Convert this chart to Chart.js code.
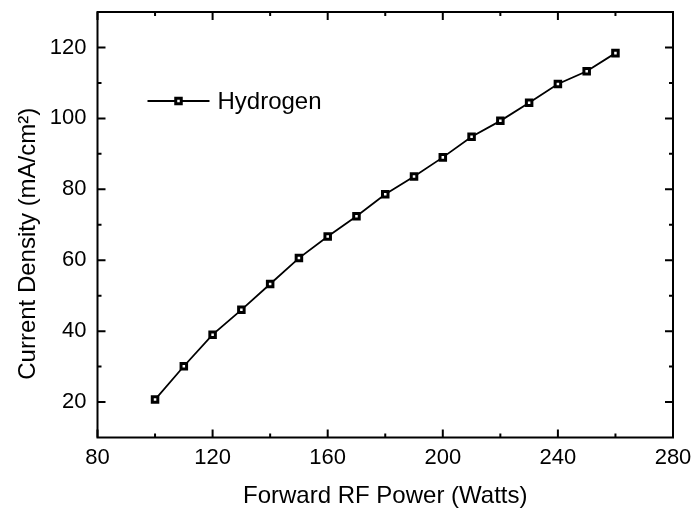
<!DOCTYPE html>
<html>
<head>
<meta charset="utf-8">
<script src="https://cdn.jsdelivr.net/npm/chart.js@4/dist/chart.umd.min.js"></script>
<style>
html,body{margin:0;padding:0;background:#fff;}
#wrap{width:695px;height:512px;position:relative;}
</style>
</head>
<body>
<div id="wrap"><canvas id="c" width="695" height="512"></canvas></div>
<script>
const powerWatts = [100,110,120,130,140,150,160,170,180,190,200,210,220,230,240,250,260];
const currentDensity = [20.7,30.1,39.0,46.0,53.3,60.6,66.7,72.4,78.6,83.6,89.0,94.8,99.3,104.4,109.7,113.3,118.4];
const seriesLabel = 'Hydrogen';
const xTickValues = [80,120,160,200,240,280];
const yTickValues = [20,40,60,80,100,120];
const xTitle = 'Forward RF Power (Watts)';
const yTitle = 'Current Density (mA/cm\u00B2)';

const FONT = '"Liberation Sans", Arial, sans-serif';

const framePlugin = {
  id: 'frame',
  afterDraw(chart) {
    const ctx = chart.ctx;
    const a = chart.chartArea;
    const xs = chart.scales.x, ys = chart.scales.y;
    ctx.save();
    ctx.strokeStyle = '#000';
    ctx.lineWidth = 2;
    ctx.strokeRect(a.left, a.top, a.right - a.left, a.bottom - a.top);
    const major = 8, minor = 4;
    ctx.beginPath();
    const xt = xTickValues;
    for (let i = 0; i < xt.length; i++) {
      const px = xs.getPixelForValue(xt[i]);
      ctx.moveTo(px, a.bottom); ctx.lineTo(px, a.bottom - major);
      ctx.moveTo(px, a.top); ctx.lineTo(px, a.top + major);
      if (i < xt.length - 1) {
        const mx = xs.getPixelForValue((xt[i] + xt[i+1]) / 2);
        ctx.moveTo(mx, a.bottom); ctx.lineTo(mx, a.bottom - minor);
        ctx.moveTo(mx, a.top); ctx.lineTo(mx, a.top + minor);
      }
    }
    const yt = yTickValues;
    const ymin = ys.min, ymax = ys.max;
    for (let i = 0; i < yt.length; i++) {
      const py = ys.getPixelForValue(yt[i]);
      ctx.moveTo(a.left, py); ctx.lineTo(a.left + major, py);
      ctx.moveTo(a.right, py); ctx.lineTo(a.right - major, py);
    }
    const step = yt[1] - yt[0];
    for (let v = yt[0] - step / 2; v <= ymax; v += step) {
      if (v <= ymin) continue;
      const py = ys.getPixelForValue(v);
      ctx.moveTo(a.left, py); ctx.lineTo(a.left + minor, py);
      ctx.moveTo(a.right, py); ctx.lineTo(a.right - minor, py);
    }
    ctx.stroke();

    // y axis title (rotated)
    ctx.save();
    ctx.fillStyle = '#000';
    ctx.font = '24px ' + FONT;
    ctx.textAlign = 'center';
    ctx.textBaseline = 'middle';
    ctx.translate(28, (a.top + a.bottom) / 2 + 19);
    ctx.rotate(-Math.PI / 2);
    ctx.fillText(yTitle, 0, 0);
    ctx.restore();

    // legend inside plot
    const ds = chart.data.datasets[0];
    const ly = a.top + 89;
    const lx0 = a.left + 50, lx1 = a.left + 112;
    ctx.lineWidth = ds.borderWidth;
    ctx.beginPath();
    ctx.moveTo(lx0, ly); ctx.lineTo(lx1, ly);
    ctx.stroke();
    const mx = (lx0 + lx1) / 2;
    const s = ds.pointRadius * Math.SQRT1_2;
    ctx.fillStyle = '#fff';
    ctx.lineWidth = ds.pointBorderWidth;
    ctx.fillRect(mx - s, ly - s, 2 * s, 2 * s);
    ctx.strokeRect(mx - s, ly - s, 2 * s, 2 * s);
    ctx.fillStyle = '#000';
    ctx.font = '24px ' + FONT;
    ctx.textBaseline = 'middle';
    ctx.textAlign = 'left';
    ctx.fillText(ds.label, lx1 + 8, ly + 1);
    ctx.restore();
  }
};

new Chart(document.getElementById('c'), {
  type: 'line',
  data: {
    datasets: [{
      label: seriesLabel,
      data: powerWatts.map((x, i) => ({x: x, y: currentDensity[i]})),
      borderColor: '#000',
      backgroundColor: '#fff',
      borderWidth: 1.8,
      pointStyle: 'rect',
      pointRadius: 3.9,
      pointBorderWidth: 3,
      pointBorderColor: '#000',
      pointBackgroundColor: '#fff',
      tension: 0,
      fill: false
    }]
  },
  options: {
    responsive: false,
    animation: false,
    devicePixelRatio: 1,
    layout: { padding: { top: 12, right: 22, left: 0, bottom: 0 } },
    plugins: { legend: { display: false }, tooltip: { enabled: false } },
    scales: {
      x: {
        type: 'linear',
        min: 80, max: 280,
        afterBuildTicks(scale) { scale.ticks = xTickValues.map(v => ({value: v})); },
        afterFit(scale) { scale.height = 74.5; scale.paddingLeft = 0; scale.paddingRight = 0; },
        grid: { display: false, drawTicks: false },
        border: { display: false },
        ticks: { color: '#000', font: { family: FONT, size: 22 }, padding: 7, maxRotation: 0, autoSkip: false },
        title: { display: true, text: xTitle, color: '#000', font: { family: FONT, size: 24 }, padding: { top: 0, bottom: 1 } }
      },
      y: {
        type: 'linear',
        min: 10, max: 130,
        afterBuildTicks(scale) { scale.ticks = yTickValues.map(v => ({value: v})); },
        afterFit(scale) { scale.width = 97.5; scale.paddingTop = 0; scale.paddingBottom = 0; },
        grid: { display: false, drawTicks: false },
        border: { display: false },
        ticks: { color: '#000', font: { family: FONT, size: 22 }, padding: 11, autoSkip: false },
        title: { display: false }
      }
    }
  },
  plugins: [framePlugin]
});
</script>
</body>
</html>
